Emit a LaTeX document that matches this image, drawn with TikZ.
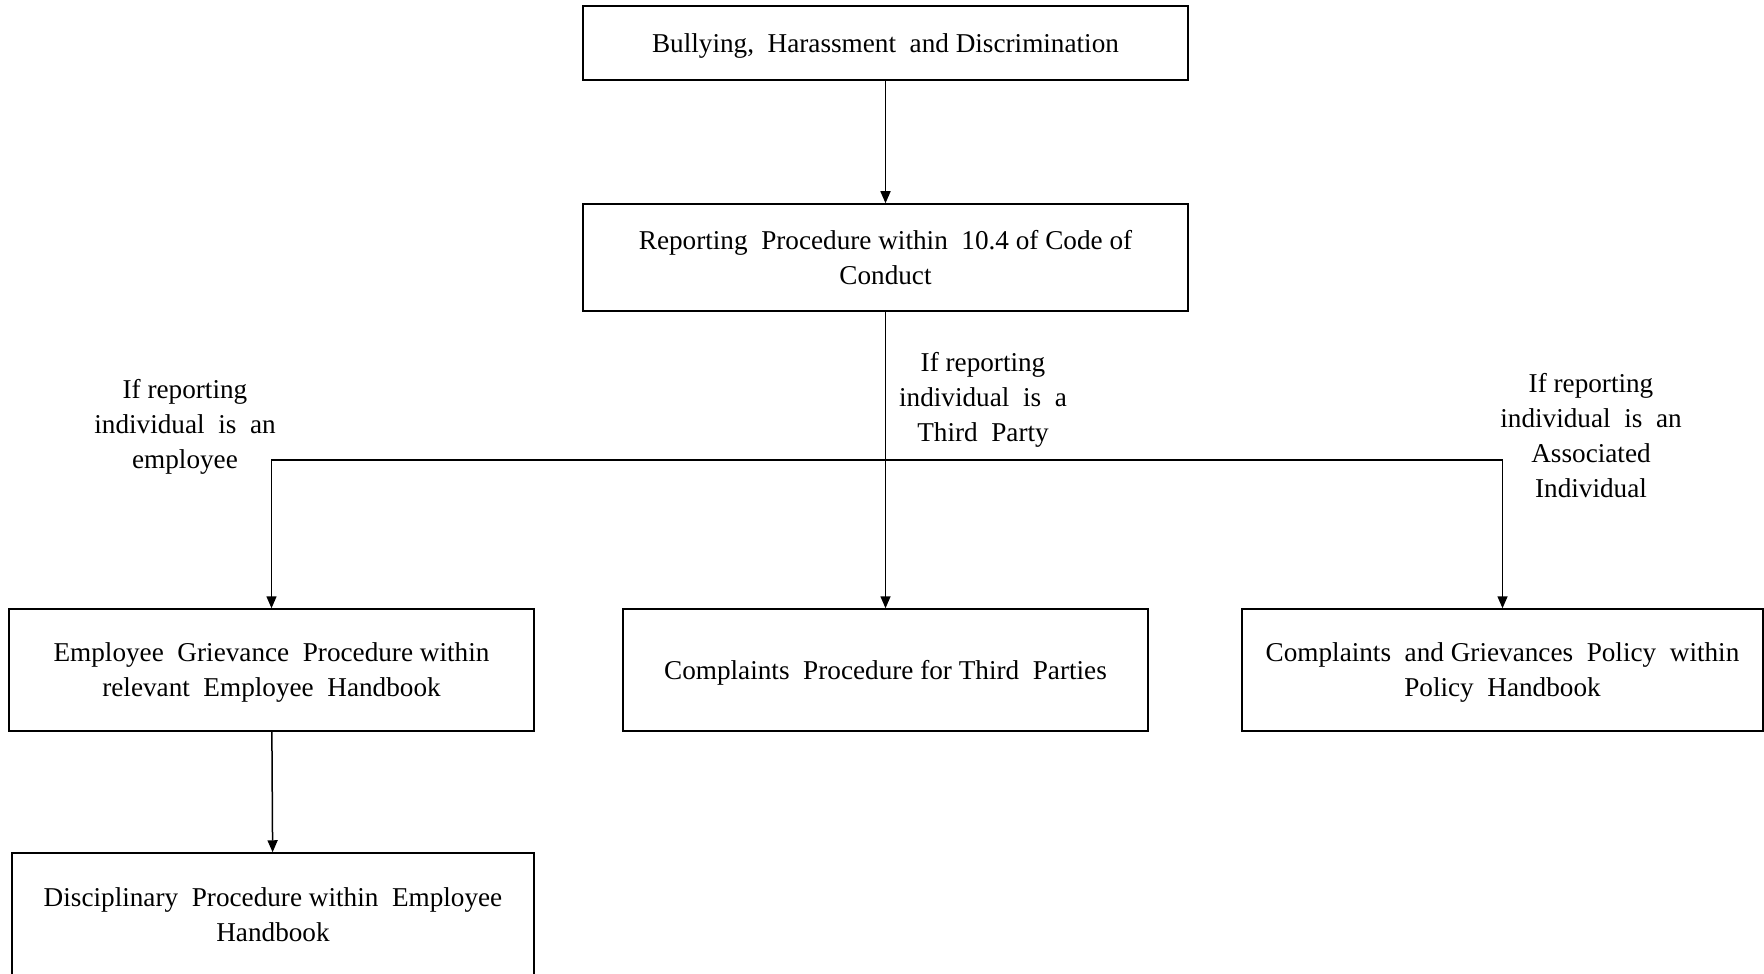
\documentclass[tikz,border=0pt]{standalone}
\usepackage{fontspec}
\setmainfont{Liberation Serif}
\usetikzlibrary{arrows.meta}
\newcommand\diagfont{\fontsize{13.6}{17.5}\selectfont}
\begin{document}
\begin{tikzpicture}[x=0.5pt,y=-0.5pt,
  box/.style={draw, line width=0.75pt, align=center, inner sep=0pt, text depth=0pt, font=\diagfont},
  lbl/.style={align=center, inner sep=0pt, font=\diagfont},
  arr/.style={line width=0.75pt, -{Triangle[width=5pt,length=6pt]}},
  ln/.style={line width=0.75pt}]
\useasboundingbox (0,0) rectangle (1764,973);
\clip (0,0) rectangle (1764,973);
\node[box, minimum width=302.5pt, minimum height=37pt] (b1) at (885.5,43)
  {Bullying,\ \ Harassment\ \ and Discrimination};
\node[box, minimum width=302.5pt, minimum height=53.5pt] (b2) at (885.5,257.5)
  {Reporting\ \ Procedure within\ \ 10.4 of Code of\\Conduct};
\node[box, minimum width=262.5pt, minimum height=61pt] (b3) at (271.5,670)
  {Employee\ \ Grievance\ \ Procedure within\\relevant\ \ Employee\ \ Handbook};
\node[box, minimum width=262.5pt, minimum height=61pt] (b4) at (885.5,670)
  {Complaints\ \ Procedure for Third\ \ Parties};
\node[box, minimum width=260.5pt, minimum height=61pt] (b5) at (1502.5,670)
  {Complaints\ \ and Grievances\ \ Policy\ \ within\\Policy\ \ Handbook};
\node[box, minimum width=261pt, minimum height=61.5pt] (b6) at (273,914.5)
  {Disciplinary\ \ Procedure within\ \ Employee\\Handbook};
\node[lbl] (l1) at (185,427) {If reporting\\individual\ \ is\ \ an\\employee};
\node[lbl] (l2) at (983,400) {If reporting\\individual\ \ is\ \ a\\Third\ \ Party};
\node[lbl] (l3) at (1591,436) {If reporting\\individual\ \ is\ \ an\\Associated\\Individual};
\coordinate (j) at (885.5,460);
\draw[arr] (b1) -- (b2);
\draw[arr] (b2) -- (b4);
\draw[arr] (j) -| (b3);
\draw[arr] (j) -| (b5);
\draw[arr] (b3) -- (b6);
\end{tikzpicture}
\end{document}
